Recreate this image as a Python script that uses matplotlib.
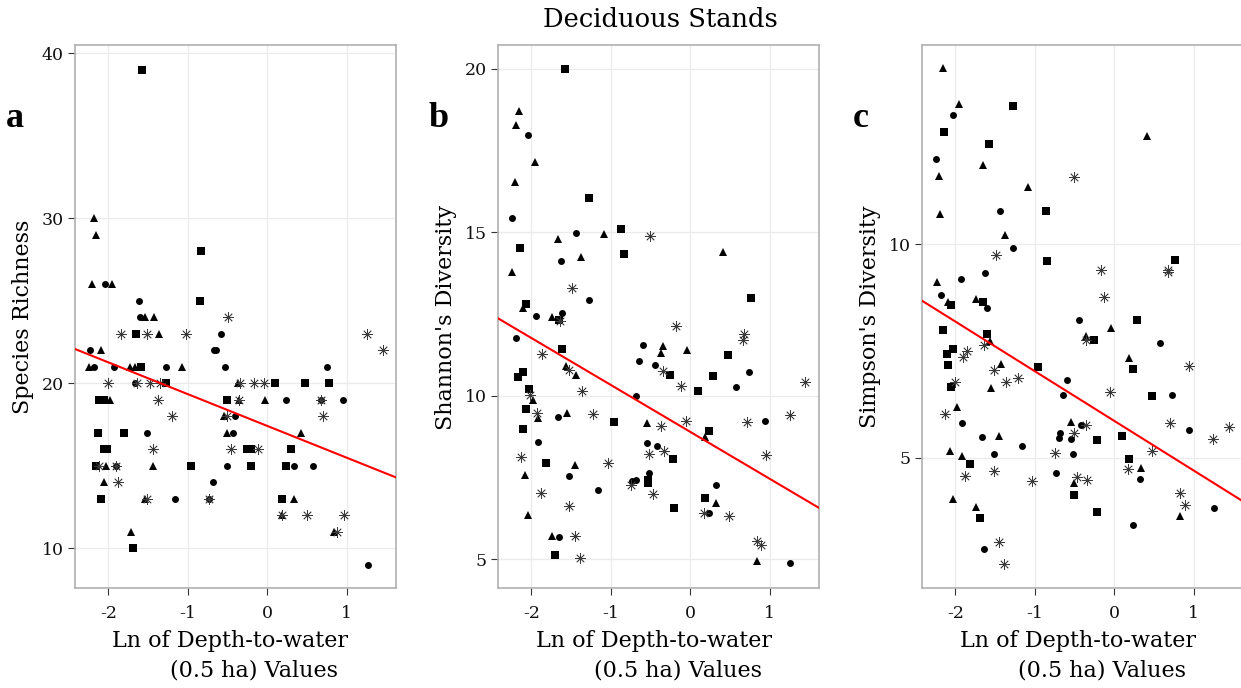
import matplotlib
matplotlib.use("Agg")
from matplotlib import pyplot as plt
import numpy as np

# ---- data: (x, y) pairs, grouped by marker shape ----
# panel a: Species Richness
a_square = [(-1.58, 39), (-0.84, 28), (-0.85, 25), (-1.65, 23), (-1.59, 21), (-1.27, 20), (0.10, 20),
            (0.47, 20), (0.78, 20), (-2.12, 19), (-2.06, 19), (-0.51, 19), (-2.13, 17), (-1.80, 17),
            (-2.06, 16), (-2.02, 16), (-0.25, 16), (-0.20, 16), (0.30, 16), (-2.16, 15), (-0.96, 15),
            (-0.21, 15), (0.24, 15), (-2.09, 13), (0.19, 13), (-1.69, 10)]
a_circle = [(-2.04, 26), (-1.62, 25), (-1.60, 24), (-0.58, 23), (-2.23, 22), (-0.67, 22), (-0.64, 22),
            (-2.18, 21), (-1.93, 21), (-1.27, 21), (-0.53, 21), (0.75, 21), (-1.66, 20), (0.23, 19),
            (0.67, 19), (0.95, 19), (-0.41, 18), (-1.52, 17), (-0.43, 17), (-1.91, 15), (-0.51, 15),
            (0.33, 15), (0.58, 15), (-0.68, 14), (-1.16, 13), (-0.73, 13), (1.27, 9)]
a_triangle = [(-2.18, 30), (-2.15, 29), (-2.20, 26), (-1.95, 26), (-1.54, 24), (-1.43, 24), (-1.36, 23),
              (-2.09, 22), (-2.25, 21), (-1.73, 21), (-1.66, 21), (-1.07, 21), (-0.37, 20), (-1.98, 19),
              (-0.35, 19), (-0.03, 19), (-0.54, 18), (-0.51, 17), (0.42, 17), (-2.03, 15), (-1.44, 15),
              (-2.06, 14), (-1.54, 13), (0.33, 13), (0.19, 12), (-1.72, 11), (0.84, 11)]
a_star = [(-0.50, 24), (-1.84, 23), (-1.52, 23), (-1.02, 23), (1.26, 23), (1.46, 22), (-2.00, 20),
          (-1.64, 20), (-1.48, 20), (-1.35, 20), (-0.34, 20), (-0.17, 20), (-0.04, 20), (-1.38, 19),
          (-0.35, 19), (0.67, 19), (-1.20, 18), (-0.51, 18), (0.70, 18), (-1.44, 16), (-0.46, 16),
          (-0.12, 16), (-2.12, 15), (-1.91, 15), (-1.88, 14), (-1.52, 13), (-0.73, 13), (0.19, 12),
          (0.50, 12), (0.96, 12), (0.88, 11)]

# panel b: Shannon's Diversity
b_square = [(-1.58, 20.0), (-1.27, 16.04), (-0.87, 15.09), (-2.14, 14.51), (-0.84, 14.34), (0.76, 13.0),
            (-2.07, 12.80), (-1.65, 12.32), (-1.61, 11.44), (0.47, 11.24), (-0.25, 10.64), (-2.11, 10.72),
            (-2.17, 10.56), (0.29, 10.59), (0.10, 10.15), (-2.03, 10.2), (-2.07, 9.6), (-0.96, 9.2),
            (-2.10, 8.98), (0.23, 8.91), (-0.22, 8.07), (-1.82, 7.95), (-0.53, 7.41), (-0.53, 7.33),
            (0.18, 6.87), (-0.21, 6.58), (-1.70, 5.12)]
b_circle = [(-2.04, 17.99), (-2.24, 15.45), (-1.44, 14.98), (-1.63, 14.11), (-1.28, 12.92), (-1.94, 12.45),
            (-1.61, 12.53), (-2.19, 11.76), (-0.59, 11.56), (-0.65, 11.05), (-0.44, 10.94), (0.74, 10.72),
            (0.58, 10.26), (-0.68, 9.99), (-1.66, 9.35), (0.94, 9.22), (-1.92, 8.6), (-0.54, 8.55),
            (-0.42, 8.46), (-1.53, 7.56), (-0.52, 7.65), (-0.73, 7.39), (-0.68, 7.43), (0.32, 7.28),
            (-1.16, 7.12), (0.23, 6.42), (-1.65, 5.68), (1.26, 4.87)]
b_triangle = [(-2.16, 18.72), (-2.19, 18.28), (-1.96, 17.14), (-2.21, 16.53), (-1.08, 14.94), (-1.66, 14.79),
              (0.41, 14.41), (-1.37, 14.26), (-2.24, 13.80), (-2.10, 12.70), (-1.74, 12.40), (-0.34, 11.52),
              (-0.37, 11.30), (-0.04, 11.41), (-1.56, 10.9), (-1.44, 10.64), (-1.98, 9.86), (-1.92, 9.32),
              (-1.55, 9.47), (-0.55, 9.18), (0.19, 8.75), (-1.45, 7.87), (-2.08, 7.57), (0.32, 6.71),
              (-2.04, 6.36), (-1.74, 5.71), (0.84, 4.95)]
b_star = [(-0.51, 14.88), (-1.49, 13.31), (-1.64, 12.30), (-0.18, 12.13), (0.68, 11.89), (0.66, 11.72),
          (-1.86, 11.28), (-0.34, 10.77), (-1.53, 10.8), (-0.12, 10.29), (1.45, 10.42), (-1.36, 10.15),
          (-2.02, 10.01), (-1.93, 9.48), (-1.22, 9.45), (1.25, 9.42), (-0.05, 9.24), (0.71, 9.2),
          (-0.37, 9.07), (-0.33, 8.3), (-0.52, 8.22), (-2.13, 8.12), (0.95, 8.18), (-1.03, 7.95),
          (-0.74, 7.26), (-1.88, 7.03), (-0.47, 6.99), (-1.53, 6.63), (0.17, 6.42), (0.49, 6.31),
          (-1.45, 5.71), (0.84, 5.56), (0.89, 5.43), (-1.39, 5.05)]

# panel c: Simpson's Diversity
c_square = [(-1.27, 13.23), (-2.14, 12.63), (-1.58, 12.34), (-0.86, 10.79), (-0.85, 9.61), (0.76, 9.64),
            (-2.05, 8.58), (-1.65, 8.65), (0.29, 8.23), (-2.16, 8.0), (-1.60, 7.9), (-0.25, 7.75),
            (-2.03, 7.55), (-2.11, 7.43), (-2.09, 7.18), (0.23, 7.09), (-0.96, 7.12), (-2.06, 6.65),
            (0.47, 6.44), (0.10, 5.52), (-0.22, 5.42), (-1.81, 4.86), (0.18, 4.97), (-0.51, 4.14),
            (-1.69, 3.59), (-0.22, 3.72)]
c_circle = [(-2.03, 13.02), (-2.24, 11.99), (-1.44, 10.79), (-1.28, 9.92), (-1.93, 9.2), (-1.63, 9.34),
            (-2.18, 8.82), (-1.60, 8.52), (-0.44, 8.23), (0.57, 7.68), (-0.59, 6.82), (-0.65, 6.46),
            (0.73, 6.46), (-1.92, 5.81), (-0.42, 5.78), (0.94, 5.65), (-0.68, 5.58), (-0.69, 5.46),
            (-0.54, 5.44), (-1.66, 5.49), (-1.16, 5.27), (-1.52, 5.08), (-0.52, 5.09), (-0.73, 4.64),
            (0.32, 4.51), (1.26, 3.83), (0.23, 3.43), (-1.64, 2.87)]
c_triangle = [(-2.15, 14.13), (-1.96, 13.29), (0.41, 12.53), (-1.65, 11.85), (-2.21, 11.6), (-1.08, 11.35),
              (-2.19, 10.70), (-1.37, 10.22), (-2.23, 9.11), (-2.09, 8.64), (-1.74, 8.71), (-0.04, 8.05),
              (-1.56, 7.74), (-0.36, 7.86), (0.18, 7.33), (-1.43, 7.2), (-1.55, 6.64), (-1.98, 6.2),
              (-0.54, 5.85), (-1.45, 5.5), (-2.07, 5.17), (-1.92, 5.04), (0.33, 4.77), (-0.51, 4.41),
              (-2.03, 4.03), (-1.74, 3.84), (0.83, 3.64)]
c_star = [(-0.51, 11.57), (-1.49, 9.74), (0.67, 9.4), (0.68, 9.36), (-0.17, 9.4), (-0.13, 8.77),
          (-0.36, 7.75), (-1.64, 7.64), (-1.85, 7.51), (-1.91, 7.36), (0.94, 7.14), (-1.52, 7.06),
          (-1.36, 6.78), (-1.21, 6.86), (-2.0, 6.78), (-0.06, 6.55), (-2.13, 6.03), (-0.36, 5.78),
          (0.70, 5.81), (1.44, 5.71), (-0.51, 5.58), (1.24, 5.44), (0.48, 5.17), (-0.74, 5.12),
          (0.17, 4.73), (-1.52, 4.70), (-1.88, 4.57), (-0.47, 4.55), (-0.34, 4.49), (-1.03, 4.45),
          (0.83, 4.18), (0.89, 3.89), (-1.45, 3.03), (-1.39, 2.52)]

# fitted regression lines (end values at the panel edges)
fit_x = [-2.42, 1.62]
a_fit = [22.08, 14.30]
b_fit = [12.37, 6.57]
c_fit = [8.68, 3.98]

letters = ["a", "b", "c"]
ylabels = ["Species Richness", "Shannon's Diversity", "Simpson's Diversity"]
yticks = [[10, 20, 30, 40], [5, 10, 15, 20], [5, 10]]
ylims = [(7.6, 40.5), (4.12, 20.73), (1.95, 14.67)]
xticks = [-2, -1, 0, 1]

plt.rcParams['font.family'] = ['DejaVu Serif']
plt.rcParams['axes.unicode_minus'] = False

W, H = 1241, 688
fig = plt.figure(figsize=(W / 100, H / 100), dpi=100)

# panel boxes in pixels: left, right, top, bottom
boxes = [(75, 396, 45, 588), (498, 819, 45, 588), (922, 1243, 45, 588)]

panels = [(a_square, a_circle, a_triangle, a_star, a_fit),
          (b_square, b_circle, b_triangle, b_star, b_fit),
          (c_square, c_circle, c_triangle, c_star, c_fit)]

for i, (sq, ci, tr, st, fit) in enumerate(panels):
    l, r, t, b = boxes[i]
    ax = fig.add_axes([l / W, 1 - b / H, (r - l) / W, (b - t) / H])

    for pts, mk, ms in [(sq, 's', 5.2), (ci, 'o', 5.0), (tr, '^', 6.2)]:
        p = np.array(pts)
        ax.plot(p[:, 0], p[:, 1], ls='none', marker=mk, ms=ms, color='black', mew=0, zorder=2)
    p = np.array(st)
    ax.plot(p[:, 0], p[:, 1], ls='none', marker=(8, 2, 0), ms=7.5, color='#3a3a3a', mew=0.55, zorder=2)

    ax.plot(fit_x, fit, color='red', lw=1.5, zorder=3)

    ax.set_xlim(-2.42, 1.62)
    ax.set_ylim(*ylims[i])
    ax.set_xticks(xticks)
    ax.set_yticks(yticks[i])
    ax.grid(True, color='#ebebeb', lw=0.9)
    ax.set_axisbelow(True)
    for s in ax.spines.values():
        s.set_color('#b0b0b0')
        s.set_linewidth(1.2)
    ax.tick_params(length=5, width=0.8, color='#333333', labelsize=12.5, labelcolor='#111111')
    ax.tick_params(axis='x', pad=7)
    ax.tick_params(axis='y', pad=3)

    # axis labels placed in pixel positions
    cx = (l + r) / 2
    fig.text((cx - 5) / W, 1 - 647 / H, "Ln of Depth-to-water", ha='center', va='baseline', fontsize=16)
    fig.text((cx + 19) / W, 1 - 676 / H, "(0.5 ha) Values", ha='center', va='baseline', fontsize=16)
    fig.text((l - 52) / W, 1 - 317 / H, ylabels[i], rotation=90, ha='center', va='center', fontsize=16)

    fig.text((l - 69) / W, 1 - 127 / H, letters[i], ha='left', va='baseline', fontsize=26,
             fontweight='bold', family='Liberation Serif')

fig.text(660 / W, 1 - 27 / H, "Deciduous Stands", ha='center', va='baseline', fontsize=18.5)

plt.savefig("out.png", dpi=100)
